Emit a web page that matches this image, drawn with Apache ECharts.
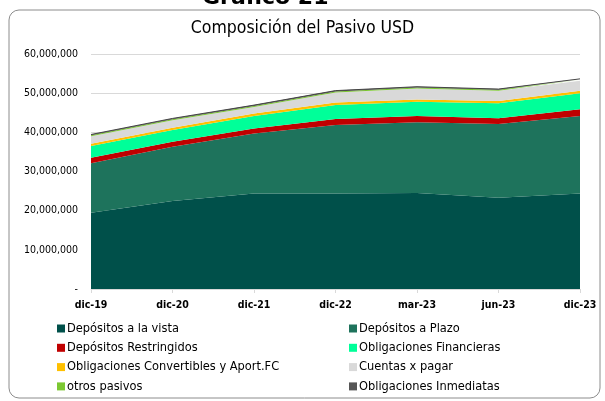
<!DOCTYPE html>
<html>
<head>
<meta charset="utf-8">
<script src="https://cdn.jsdelivr.net/npm/echarts@6/dist/echarts.min.js"></script>
<style>
  html, body { margin: 0; padding: 0; background: #fff; }
  #chart { width: 605px; height: 401px; }
</style>
</head>
<body>
<div id="chart"></div>
<script>
// periodos
const categories = ['dic-19', 'dic-20', 'dic-21', 'dic-22', 'mar-23', 'jun-23', 'dic-23']

// saldos en USD
const depVista = [19500000, 22500000, 24400000, 24400000, 24500000, 23300000, 24400000]
const depPlazo = [12600000, 13800000, 15300000, 17500000, 18100000, 18800000, 19800000]
const depRestringidos = [1400000, 1300000, 1300000, 1500000, 1600000, 1500000, 1700000]
const oblFinancieras = [3000000, 3000000, 3200000, 3600000, 3600000, 3800000, 4100000]
const oblConvertibles = [600000, 600000, 600000, 600000, 600000, 600000, 600000]
const cuentasPagar = [1900000, 1900000, 1700000, 2600000, 2800000, 2600000, 2600000]
const otrosPasivos = [250000, 250000, 250000, 250000, 250000, 250000, 250000]
const oblInmediatas = [200000, 200000, 200000, 200000, 200000, 200000, 200000]

const seriesDefs = [
  { name: 'Depósitos a la vista', data: depVista, color: '#00504A' },
  { name: 'Depósitos a Plazo', data: depPlazo, color: '#1E735C' },
  { name: 'Depósitos Restringidos', data: depRestringidos, color: '#C00000' },
  { name: 'Obligaciones Financieras', data: oblFinancieras, color: '#00FF99' },
  { name: 'Obligaciones Convertibles y Aport.FC', data: oblConvertibles, color: '#FFC000' },
  { name: 'Cuentas x pagar', data: cuentasPagar, color: '#D9D9D9' },
  { name: 'otros pasivos', data: otrosPasivos, color: '#7CC832' },
  { name: 'Obligaciones Inmediatas', data: oblInmediatas, color: '#555555' }
]

const font = 'DejaVu Sans Condensed, DejaVu Sans, sans-serif'
const fontWide = 'DejaVu Sans, sans-serif'

const chart = echarts.init(document.getElementById('chart'))

const legendBase = {
  orient: 'vertical',
  top: 317,
  itemWidth: 8,
  itemHeight: 8,
  itemGap: 6.3,
  icon: 'rect',
  textStyle: { fontFamily: font, fontSize: 12.7, color: '#000', padding: [0, 0, 0, -3] }
}

chart.setOption({
  animation: false,
  graphic: [
    {
      type: 'rect',
      shape: { x: 9, y: 10, width: 591, height: 388, r: 10 },
      style: { fill: 'none', stroke: '#8c8c8c', lineWidth: 1 }
    },
    {
      type: 'text',
      left: 202,
      top: -13,
      style: { text: 'Gráfico 21', font: 'bold 22px ' + fontWide, fill: '#000' }
    }
  ],
  title: {
    text: 'Composición del Pasivo USD',
    left: 'center',
    top: 14,
    textStyle: { fontFamily: font, fontSize: 17.5, fontWeight: 'normal', color: '#000' }
  },
  legend: [
    Object.assign({}, legendBase, {
      left: 52,
      data: [seriesDefs[0].name, seriesDefs[2].name, seriesDefs[4].name, seriesDefs[6].name]
    }),
    Object.assign({}, legendBase, {
      left: 344,
      data: [seriesDefs[1].name, seriesDefs[3].name, seriesDefs[5].name, seriesDefs[7].name]
    })
  ],
  grid: { left: 91, right: 25, top: 54, bottom: 112 },
  xAxis: {
    type: 'category',
    data: categories,
    boundaryGap: false,
    axisLine: { lineStyle: { color: '#d9d9d9' } },
    axisTick: { show: true, length: 4, lineStyle: { color: '#d9d9d9' } },
    axisLabel: { fontFamily: font, fontSize: 10.5, fontWeight: 'bold', color: '#000', margin: 11 }
  },
  yAxis: {
    type: 'value',
    min: 0,
    max: 60000000,
    interval: 10000000,
    axisLine: { show: false },
    axisTick: { show: false },
    splitLine: { lineStyle: { color: '#d9d9d9' } },
    axisLabel: {
      fontFamily: font,
      fontSize: 10.5,
      color: '#000',
      margin: 13,
      formatter: v => (v === 0 ? '-' : v.toLocaleString('en-US'))
    }
  },
  series: seriesDefs.map((s, i) => ({
    name: s.name,
    type: 'line',
    stack: 'total',
    data: s.data,
    symbol: 'none',
    color: s.color,
    lineStyle: i === seriesDefs.length - 1 ? { width: 1, color: '#444' } : { width: 0 },
    areaStyle: { color: s.color, opacity: 1 }
  }))
})
</script>
</body>
</html>
